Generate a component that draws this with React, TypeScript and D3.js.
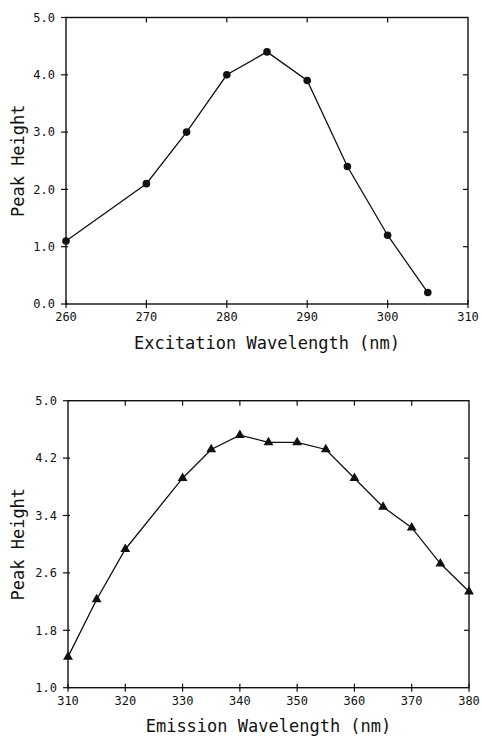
import React from "react";
import * as d3 from "d3";

const excWavelength = [260, 270, 275, 280, 285, 290, 295, 300, 305];
const excPeak = [1.1, 2.1, 3.0, 4.0, 4.4, 3.9, 2.4, 1.2, 0.2];
const excXTicks = [260, 270, 280, 290, 300, 310];
const excYTicks = [0, 1, 2, 3, 4, 5];

const emWavelength = [310, 315, 320, 330, 335, 340, 345, 350, 355, 360, 365, 370, 375, 380];
const emPeak = [1.43, 2.23, 2.93, 3.92, 4.32, 4.52, 4.42, 4.42, 4.32, 3.92, 3.52, 3.23, 2.73, 2.34];
const emXTicks = [310, 320, 330, 340, 350, 360, 370, 380];
const emYTicks = [1.0, 1.8, 2.6, 3.4, 4.2, 5.0];

const FONT = "'DejaVu Sans Mono', 'Liberation Mono', monospace";

type PanelProps = {
  xs: number[];
  ys: number[];
  xTicks: number[];
  yTicks: number[];
  xDomain: [number, number];
  yDomain: [number, number];
  xRange: [number, number];
  yRange: [number, number];
  xLabel: string;
  xLabelY: number;
  marker: "circle" | "triangle";
};

function Panel(p: PanelProps) {
  const x = d3.scaleLinear().domain(p.xDomain).range(p.xRange);
  const y = d3.scaleLinear().domain(p.yDomain).range(p.yRange);
  const line = d3
    .line<number>()
    .x((_, i) => x(p.xs[i]))
    .y((d) => y(d));
  const [x0, x1] = p.xRange;
  const [yb, yt] = p.yRange;
  const fmt = d3.format(".1f");
  const tri = d3.symbol().type(d3.symbolTriangle).size(42)();
  const midY = (yb + yt) / 2;
  return (
    <g>
      <rect x={x0} y={yt} width={x1 - x0} height={yb - yt} fill="none" stroke="#111" strokeWidth={1.4} />
      {p.xTicks.map((t, i) => (
        <g key={"xt" + i}>
          <line x1={x(t)} x2={x(t)} y1={yb - 4} y2={yb + 4} stroke="#111" strokeWidth={1.2} />
          {i > 0 && i < p.xTicks.length - 1 && (
            <line x1={x(t)} x2={x(t)} y1={yt} y2={yt + 5} stroke="#111" strokeWidth={1.2} />
          )}
          <text x={x(t)} y={yb + 17} textAnchor="middle" fontFamily={FONT} fontSize={12} fill="#111">
            {t}
          </text>
        </g>
      ))}
      {p.yTicks.map((t, i) => (
        <g key={"yt" + i}>
          <line x1={x0 - 5} x2={x0 + 2} y1={y(t)} y2={y(t)} stroke="#111" strokeWidth={1.2} />
          {i > 0 && i < p.yTicks.length - 1 && (
            <line x1={x1 - 5} x2={x1} y1={y(t)} y2={y(t)} stroke="#111" strokeWidth={1.2} />
          )}
          <text x={x0 - 11} y={y(t)} dy="0.35em" textAnchor="end" fontFamily={FONT} fontSize={12} fill="#111">
            {fmt(t)}
          </text>
        </g>
      ))}
      <path d={line(p.ys) || ""} fill="none" stroke="#111" strokeWidth={1.3} />
      {p.ys.map((v, i) =>
        p.marker === "circle" ? (
          <circle key={"m" + i} cx={x(p.xs[i])} cy={y(v)} r={3.8} fill="#111" />
        ) : (
          <path key={"m" + i} d={tri || ""} transform={`translate(${x(p.xs[i])},${y(v)})`} fill="#111" />
        )
      )}
      <text
        x={(x0 + x1) / 2}
        y={p.xLabelY}
        textAnchor="middle"
        fontFamily={FONT}
        fontSize={17}
        fill="#111"
      >
        {p.xLabel}
      </text>
      <text
        transform={`translate(24,${midY}) rotate(-90)`}
        textAnchor="middle"
        fontFamily={FONT}
        fontSize={17}
        fill="#111"
      >
        Peak Height
      </text>
    </g>
  );
}

export default function App() {
  return (
    <svg
      width={482}
      height={739}
      style={{ position: "absolute", left: 0, top: 0, background: "#fff" }}
    >
      <rect width={482} height={739} fill="#fff" />
      <Panel
        xs={excWavelength}
        ys={excPeak}
        xTicks={excXTicks}
        yTicks={excYTicks}
        xDomain={[260, 310]}
        yDomain={[0, 5]}
        xRange={[66, 468]}
        yRange={[304, 17.5]}
        xLabel="Excitation Wavelength (nm)"
        xLabelY={349}
        marker="circle"
      />
      <Panel
        xs={emWavelength}
        ys={emPeak}
        xTicks={emXTicks}
        yTicks={emYTicks}
        xDomain={[310, 380]}
        yDomain={[1, 5]}
        xRange={[68, 469]}
        yRange={[687.7, 400.7]}
        xLabel="Emission Wavelength (nm)"
        xLabelY={732}
        marker="triangle"
      />
    </svg>
  );
}
